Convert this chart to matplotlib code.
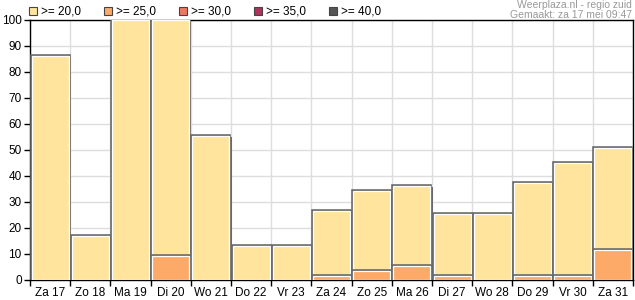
import numpy as np
import matplotlib.pyplot as plt
import matplotlib.patheffects as pe

plt.rcParams['font.family'] = ['Liberation Sans', 'DejaVu Sans']

days = ['Za 17', 'Zo 18', 'Ma 19', 'Di 20', 'Wo 21', 'Do 22', 'Vr 23', 'Za 24',
        'Zo 25', 'Ma 26', 'Di 27', 'Wo 28', 'Do 29', 'Vr 30', 'Za 31']
ge20 = [86.3, 17, 100, 100, 55.5, 13.2, 13.2, 26.7, 34.3, 36.3, 25.2, 25.2, 37.2, 44.9, 50.9]
ge25 = [0, 0, 0, 9.4, 0, 0, 0, 1.6, 3.5, 5.5, 1.6, 0, 1.6, 1.6, 11.5]

legend_labels = ['>= 20,0', '>= 25,0', '>= 30,0', '>= 35,0', '>= 40,0']
legend_colors = ['#FFE49D', '#FDAA68', '#EE7762', '#B0305E', '#555555']

fig = plt.figure(figsize=(6.35, 3.0), dpi=100)
ax = fig.add_axes([30 / 635, 20 / 300, 603 / 635, 260 / 300])

x = np.arange(len(days))
effects = [pe.SimplePatchShadow(offset=(1.6, -1.0), shadow_rgbFace='#6a6a6a', alpha=1.0),
           pe.Stroke(linewidth=2.6, foreground='#6a6a6a'),
           pe.Normal()]

for vals, col in [(ge20, legend_colors[0]), (ge25, legend_colors[1])]:
    bars = ax.bar(x, vals, width=0.92, color=col, edgecolor='white', linewidth=0.9, zorder=3)
    for b, v in zip(bars, vals):
        if v <= 0:
            b.set_visible(False)
        b.set_path_effects(effects)

ax.set_xlim(-0.5, len(days) - 0.5)
ax.set_ylim(0, 100)
ax.set_yticks(np.arange(0, 101, 10))
ax.set_xticks(x)
ax.set_xticklabels(days)
ax.set_xticks(np.arange(-0.5, len(days), 1), minor=True)
ax.tick_params(axis='x', which='major', length=0, labelsize=8.5, pad=5)
ax.tick_params(axis='x', which='minor', length=4, width=1, direction='out')
ax.tick_params(axis='y', length=4, width=1, labelsize=8.5, pad=2)
ax.grid(True, which='minor', axis='x', color='#dddddd', linewidth=1, zorder=0)
ax.grid(True, which='major', axis='y', color='#dddddd', linewidth=1, zorder=0)
ax.set_axisbelow(True)
for s in ax.spines.values():
    s.set_linewidth(1)
    s.set_color('black')

# legend along the top
for i, (lab, col) in enumerate(zip(legend_labels, legend_colors)):
    x0 = 29 + i * 75
    fig.patches.append(plt.Rectangle((x0 / 635, 1 - 15 / 300), 8 / 635, 8 / 300,
                                     transform=fig.transFigure, facecolor=col,
                                     edgecolor='#444444', linewidth=0.8))
    fig.text((x0 + 12) / 635, 1 - 11.5 / 300, lab, fontsize=8.5, va='center', ha='left')

fig.text(632 / 635, 1 - 0.5 / 300, 'Weerplaza.nl - regio zuid', fontsize=7.5,
         color='#999999', ha='right', va='top')
fig.text(632 / 635, 1 - 9.5 / 300, 'Gemaakt: za 17 mei 09:47', fontsize=7.5,
         color='#999999', ha='right', va='top')

fig.savefig('out.png', dpi=100)
